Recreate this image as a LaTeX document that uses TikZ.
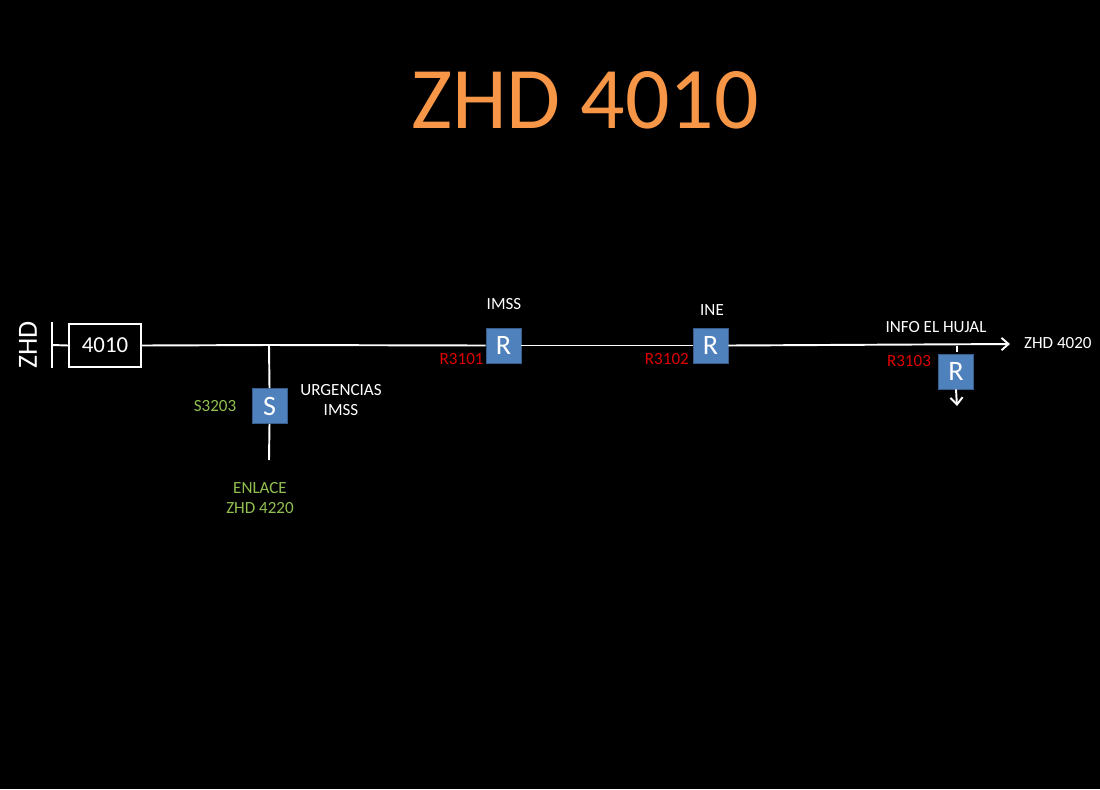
\documentclass[tikz,border=0pt]{standalone}
\usepackage{fontspec}
\setmainfont{Carlito}
\usetikzlibrary{arrows.meta, positioning}
\definecolor{titleorange}{HTML}{F79646}
\definecolor{boxblue}{HTML}{4F81BD}
\definecolor{boxedge}{HTML}{385D8A}
\definecolor{labgreen}{HTML}{92C050}
\definecolor{labred}{HTML}{E00000}
\tikzset{
    feeder/.style = {draw=white, line width=1.1pt},
    switchbox/.style = {rectangle, minimum size=0.7cm, inner sep=0pt, draw=boxedge, fill=boxblue, text=white, font=\fontsize{16}{16}\selectfont},
    subbox/.style = {rectangle, minimum width=1.44cm, minimum height=0.86cm, draw=white, line width=0.8pt, text=white, font=\fontsize{13}{13}\selectfont},
    tag/.style = {text=white, font=\fontsize{9.7}{11.5}\selectfont, align=center, inner sep=1pt},
    redtag/.style = {tag, text=labred},
    greentag/.style = {tag, text=labgreen},
    arrow/.style = {feeder, -{Straight Barb[length=4pt, width=7pt]}}
}
\begin{document}
\begin{tikzpicture}[x=0.02cm, y=-0.02cm]
\fill[black] (0,0) rectangle (1100,789);
\useasboundingbox (0,0) rectangle (1100,789);

\node (title) [text=titleorange, font=\fontsize{50}{50}\selectfont] at (585,100) {ZHD 4010};

% subestacion
\node (zhd) [text=white, rotate=90, font=\fontsize{15.8}{15.8}\selectfont] at (28,345) {ZHD};
\coordinate (bartop) at (52,322);
\coordinate (barbot) at (52,368);
\node (sub) [subbox] at (105,345.5) {4010};
\draw [feeder] (bartop) -- (barbot);
\draw [feeder] (52,345) -- (sub.west);

% troncal
\coordinate (tap) at (269,345);
\coordinate (tail) at (1010,344);
\node (r1) [switchbox] at (503.5,345.5) {R};
\node (r2) [switchbox] at (710.5,345.5) {R};
\draw [feeder] (sub.east) -- (tap) -- (r1.west);
\draw [feeder] (r1.east) -- (r2.west);
\draw [arrow] (r2.east) -- (tail);
\node (zhd4020) [tag, anchor=west] at (1022,343) {ZHD 4020};
\node (imss) [tag] at (504,304) {IMSS};
\node (ine) [tag] at (712,310) {INE};
\node (r3101) [redtag, anchor=east] at (r1.south west) [yshift=2.5pt] {R3101};
\node (r3102) [redtag, anchor=east] at (r2.south west) [yshift=2.5pt, xshift=-1pt] {R3102};

% ramal seccionador
\node (s1) [switchbox] at (269.5,406) {S};
\coordinate (enlace) at (269,460);
\draw [feeder] (tap) -- (s1.north);
\draw [feeder] (s1.south) -- (enlace);
\node (s3203) [greentag] at (215,406) {S3203};
\node (urg) [tag] at (341,400) {URGENCIAS\\IMSS};
\node (zhd4220) [greentag] at (260,498) {ENLACE\\ZHD 4220};

% derivacion info el hujal
\node (hujal) [tag] at (936,327) {INFO EL HUJAL};
\coordinate (drop) at (957,345);
\node (r3) [switchbox] at (956,371.5) {R};
\coordinate (out) at (957,406);
\draw [feeder] (957,346) -- (957,352);
\draw [arrow] (r3.south) -- (out);
\node (r3103) [redtag] at (909,361) {R3103};
\end{tikzpicture}
\end{document}
